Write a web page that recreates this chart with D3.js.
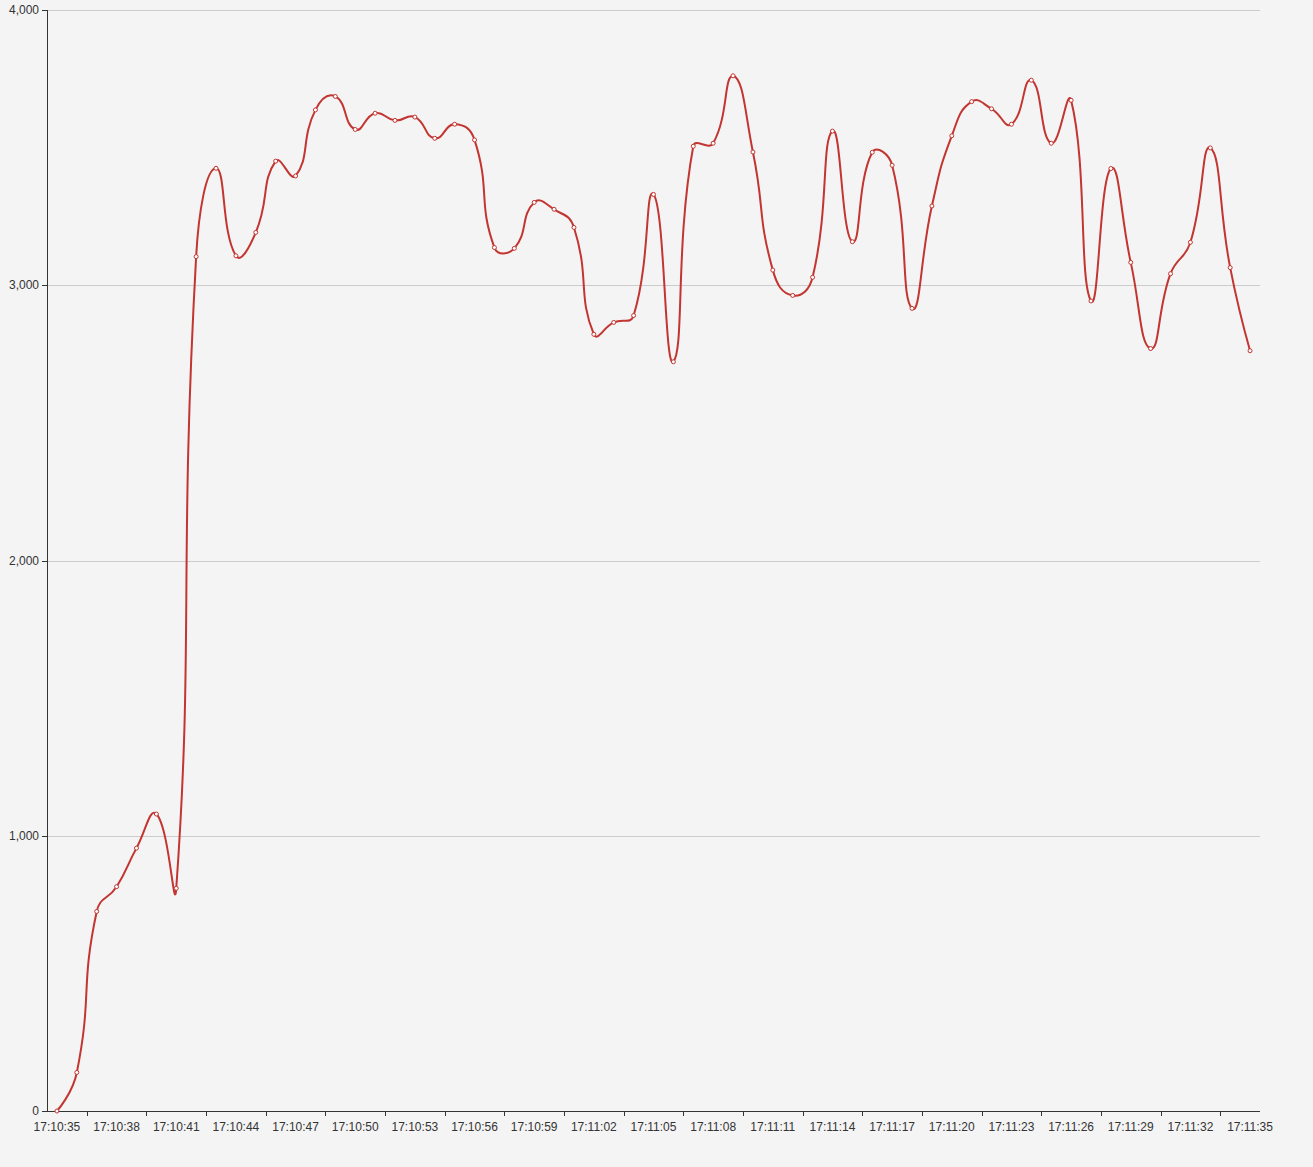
<!DOCTYPE html>
<html>
<head>
<meta charset="utf-8">
<script src="https://cdn.jsdelivr.net/npm/d3@7"></script>
<style>
  body { margin: 0; background: #f4f4f4; }
  svg { display: block; }
  text { font-family: Arial, "Liberation Sans", sans-serif; font-size: 12px; fill: #333; }
</style>
</head>
<body>
<script>
var times = [
  "17:10:35","17:10:36","17:10:37","17:10:38","17:10:39","17:10:40","17:10:41","17:10:42","17:10:43","17:10:44",
  "17:10:45","17:10:46","17:10:47","17:10:48","17:10:49","17:10:50","17:10:51","17:10:52","17:10:53","17:10:54",
  "17:10:55","17:10:56","17:10:57","17:10:58","17:10:59","17:11:00","17:11:01","17:11:02","17:11:03","17:11:04",
  "17:11:05","17:11:06","17:11:07","17:11:08","17:11:09","17:11:10","17:11:11","17:11:12","17:11:13","17:11:14",
  "17:11:15","17:11:16","17:11:17","17:11:18","17:11:19","17:11:20","17:11:21","17:11:22","17:11:23","17:11:24",
  "17:11:25","17:11:26","17:11:27","17:11:28","17:11:29","17:11:30","17:11:31","17:11:32","17:11:33","17:11:34",
  "17:11:35"
];

var values = [
  0, 140, 725, 815, 955, 1079, 809, 3104, 3425, 3107,
  3192, 3451, 3397, 3637, 3686, 3566, 3625, 3599, 3611, 3534,
  3585, 3528, 3137, 3134, 3301, 3276, 3210, 2822, 2865, 2890,
  3330, 2722, 3505, 3516, 3761, 3484, 3055, 2963, 3029, 3560,
  3158, 3483, 3436, 2916, 3288, 3543, 3667, 3641, 3585, 3745,
  3516, 3672, 2943, 3424, 3083, 2770, 3042, 3156, 3499, 3064,
  2762
];

var yTicks = [0, 1000, 2000, 3000, 4000];
var labelEvery = 3;

var width = 1313, height = 1167;
var margin = {left: 47, right: 53, top: 10, bottom: 56};

var svg = d3.select('body').append('svg')
    .attr('width', width)
    .attr('height', height);

svg.append('rect')
    .attr('width', width)
    .attr('height', height)
    .attr('fill', '#f4f4f4');

var x = d3.scaleBand()
    .domain(times)
    .range([margin.left, width - margin.right]);

var y = d3.scaleLinear()
    .domain([0, 4000])
    .range([height - margin.bottom, margin.top]);

function cx(t) { return x(t) + x.bandwidth() / 2; }
function crisp(v) { return Math.round(v) + 0.5; }

var x0 = margin.left, x1 = width - margin.right;

// grid lines
svg.append('g').selectAll('line')
    .data(yTicks.filter(function(d) { return d > 0; }))
    .join('line')
    .attr('x1', x0).attr('x2', x1)
    .attr('y1', function(d) { return crisp(y(d)); })
    .attr('y2', function(d) { return crisp(y(d)); })
    .attr('stroke', '#ccc');

// y axis
var yAxis = svg.append('g');
yAxis.append('line')
    .attr('x1', crisp(x0)).attr('x2', crisp(x0))
    .attr('y1', y(4000)).attr('y2', y(0))
    .attr('stroke', '#333');
yAxis.selectAll('line.tick')
    .data(yTicks)
    .join('line')
    .attr('class', 'tick')
    .attr('x1', x0 - 5).attr('x2', x0)
    .attr('y1', function(d) { return crisp(y(d)); })
    .attr('y2', function(d) { return crisp(y(d)); })
    .attr('stroke', '#333');
yAxis.selectAll('text')
    .data(yTicks)
    .join('text')
    .attr('x', x0 - 8)
    .attr('y', function(d) { return y(d); })
    .attr('dy', '0.35em')
    .attr('text-anchor', 'end')
    .text(d3.format(','));

// x axis
var xAxis = svg.append('g');
xAxis.append('line')
    .attr('x1', x0).attr('x2', x1)
    .attr('y1', crisp(y(0))).attr('y2', crisp(y(0)))
    .attr('stroke', '#333');
var tickCats = times.filter(function(d, i) { return i % labelEvery === 2; });
xAxis.selectAll('line.tick')
    .data(tickCats)
    .join('line')
    .attr('class', 'tick')
    .attr('x1', function(d) { return crisp(x(d)); })
    .attr('x2', function(d) { return crisp(x(d)); })
    .attr('y1', y(0)).attr('y2', y(0) + 5)
    .attr('stroke', '#333');
xAxis.selectAll('text')
    .data(times.filter(function(d, i) { return i % labelEvery === 0; }))
    .join('text')
    .attr('x', cx)
    .attr('y', y(0) + 20)
    .attr('text-anchor', 'middle')
    .text(function(d) { return d; });

// echarts-like smoothing
function smoothCurve(context) {
  var pts = [];
  return {
    areaStart: function() {}, areaEnd: function() {},
    lineStart: function() { pts = []; },
    point: function(px, py) { pts.push([+px, +py]); },
    lineEnd: function() {
      var s = 0.5;
      var minX = d3.min(pts, function(p) { return p[0]; }), maxX = d3.max(pts, function(p) { return p[0]; });
      var minY = d3.min(pts, function(p) { return p[1]; }), maxY = d3.max(pts, function(p) { return p[1]; });
      function clamp(c) {
        return [Math.max(minX, Math.min(maxX, c[0])), Math.max(minY, Math.min(maxY, c[1]))];
      }
      context.moveTo(pts[0][0], pts[0][1]);
      var cp0 = pts[0].slice();
      for (var i = 1; i < pts.length; i++) {
        var p = pts[i], prev = pts[i - 1], next = pts[i + 1];
        var cp1, ratio = 0.5, v = [0, 0];
        if (!next) {
          cp1 = p.slice();
        } else {
          v = [next[0] - prev[0], next[1] - prev[1]];
          var d0 = Math.hypot(p[0] - prev[0], p[1] - prev[1]);
          var d1 = Math.hypot(next[0] - p[0], next[1] - p[1]);
          ratio = d1 / (d0 + d1);
          cp1 = [p[0] - v[0] * s * (1 - ratio), p[1] - v[1] * s * (1 - ratio)];
        }
        cp0 = clamp(cp0); cp1 = clamp(cp1);
        context.bezierCurveTo(cp0[0], cp0[1], cp1[0], cp1[1], p[0], p[1]);
        cp0 = [p[0] + v[0] * s * ratio, p[1] + v[1] * s * ratio];
      }
    }
  };
}

var line = d3.line()
    .x(function(d, i) { return cx(times[i]); })
    .y(function(d) { return y(d); })
    .curve(smoothCurve);

svg.append('path')
    .datum(values)
    .attr('d', line)
    .attr('fill', 'none')
    .attr('stroke', '#c23531')
    .attr('stroke-width', 2);

svg.append('g').selectAll('circle')
    .data(values)
    .join('circle')
    .attr('cx', function(d, i) { return cx(times[i]); })
    .attr('cy', function(d) { return y(d); })
    .attr('r', 2)
    .attr('fill', '#fff')
    .attr('stroke', '#c23531')
    .attr('stroke-width', 1);
</script>
</body>
</html>
